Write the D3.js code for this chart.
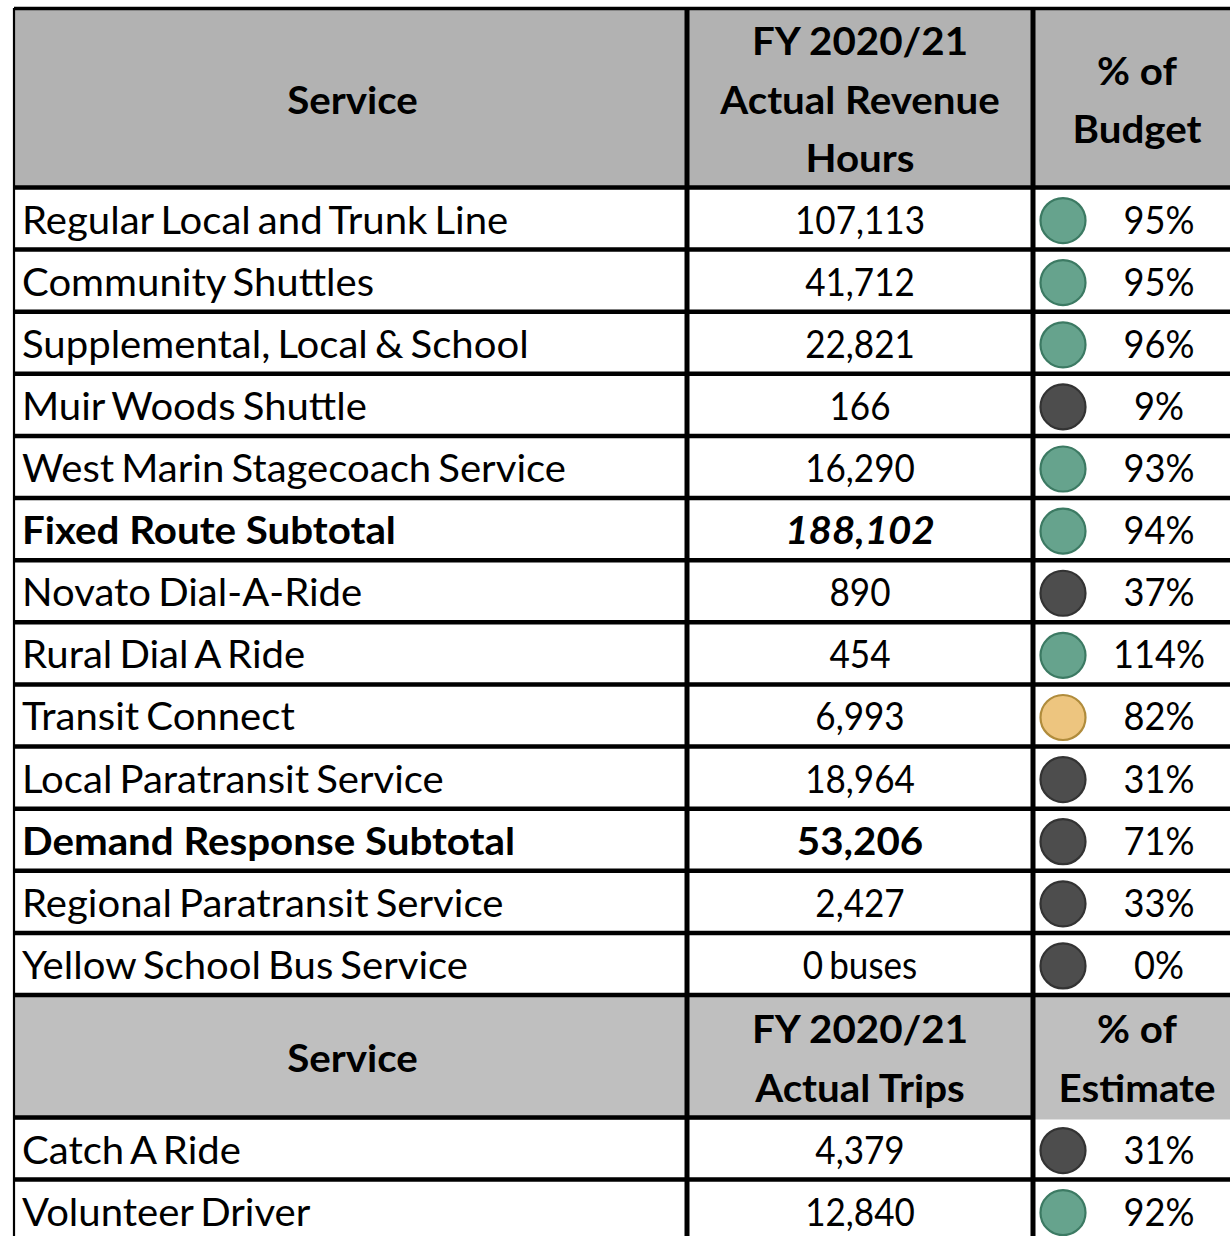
<!DOCTYPE html>
<html>
<head>
<meta charset="utf-8">
<script src="https://cdn.jsdelivr.net/npm/d3@7/dist/d3.min.js"></script>
<style>
  html, body { margin: 0; padding: 0; background: #fff; }
  svg { display: block; }
  text { font-family: Lato, "Noto Sans", sans-serif; fill: #000; }
</style>
</head>
<body>
<svg id="chart" width="1230" height="1236"></svg>
<script>
// ---------- DATA ----------
const header1 = ["Service", "FY 2020/21|Actual Revenue|Hours", "% of|Budget"];
const services = [
  "Regular Local and Trunk Line", "Community Shuttles", "Supplemental, Local & School",
  "Muir Woods Shuttle", "West Marin Stagecoach Service", "Fixed Route Subtotal",
  "Novato Dial-A-Ride", "Rural Dial A Ride", "Transit Connect", "Local Paratransit Service",
  "Demand Response Subtotal", "Regional Paratransit Service", "Yellow School Bus Service"
];
const hours = ["107,113", "41,712", "22,821", "166", "16,290", "188,102", "890", "454",
  "6,993", "18,964", "53,206", "2,427", "0 buses"];
const pctBudget = ["95%", "95%", "96%", "9%", "93%", "94%", "37%", "114%", "82%", "31%", "71%", "33%", "0%"];
const status1 = ["good", "good", "good", "poor", "good", "good", "poor", "good", "warn", "poor", "poor", "poor", "poor"];
const rowStyle1 = ["", "", "", "", "", "subtotal", "", "", "", "", "subtotal2", "", ""];

const header2 = ["Service", "FY 2020/21|Actual Trips", "% of|Estimate"];
const services2 = ["Catch A Ride", "Volunteer Driver"];
const trips = ["4,379", "12,840"];
const pctEstimate = ["31%", "92%"];
const status2 = ["poor", "good"];

// ---------- STYLE ----------
const statusFill = { good: "#66a38d", poor: "#4d4d4d", warn: "#edc57f" };
const statusStroke = { good: "#3c7a63", poor: "#333333", warn: "#b08c3c" };

const svg = d3.select("#chart");
const W = 1230;
const xLeft = 14, xC1 = 687, xC2 = 1033, xRight = 1240;
const colCenter = [(xLeft + xC1) / 2 + 2, (xC1 + xC2) / 2, 1159];
const top1 = 8, head1Bottom = 187.5, body1Bottom = 995, head2Bottom = 1117.5;

const y1 = d3.scaleLinear().domain([0, services.length]).range([head1Bottom, body1Bottom]);
const y2 = d3.scaleLinear().domain([0, services2.length]).range([head2Bottom, head2Bottom + 2 * 62.1]);

const FS = 38;

// measure to compress horizontally like the condensed original font
function measure(str, weight, style) {
  const t = svg.append("text").attr("font-size", FS).attr("font-weight", weight)
    .attr("font-style", style || "normal").attr("word-spacing", weight === 400 ? -3 : 0).text(str);
  const w = t.node().getComputedTextLength();
  t.remove();
  return w;
}
const sxName = (505 + 536 + 434 + 509) /
  (measure("Regular Local and Trunk Line", 400) + measure("West Marin Stagecoach Service", 400) +
   measure("Yellow School Bus Service", 400) + measure("Supplemental, Local & School", 400));
const sxNum = 130 / measure("107,113", 400);
const sxPct = 92 / measure("114%", 400);
const sxBold = 374 / measure("Fixed Route Subtotal", 700);

function addText(g, str, x, y, anchor, weight, sx, style) {
  g.append("text")
    .attr("transform", `translate(${x},${y}) scale(${sx},1)`)
    .attr("text-anchor", anchor)
    .attr("font-size", FS)
    .attr("font-weight", weight)
    .attr("font-style", style || "normal")
    .attr("word-spacing", weight === 400 ? -3 : 0)
    .text(str);
}

// ---------- HEADER BACKGROUNDS ----------
svg.append("rect").attr("x", xLeft).attr("y", top1).attr("width", W - xLeft).attr("height", head1Bottom - top1)
  .attr("fill", "#b2b2b2");
svg.append("rect").attr("x", xLeft).attr("y", body1Bottom).attr("width", W - xLeft).attr("height", head2Bottom - body1Bottom + 2)
  .attr("fill", "#bfbfbf");

const g = svg.append("g");

function drawHeader(hdr, yTop, yBot, lineGap) {
  const cy = (yTop + yBot) / 2;
  hdr.forEach((h, i) => {
    const lines = h.split("|");
    lines.forEach((ln, j) => {
      const yy = cy + (j - (lines.length - 1) / 2) * lineGap + 16;
      addText(g, ln, colCenter[i] + (i === 2 ? -22 : 0), yy, "middle", 700, sxBold);
    });
  });
}
drawHeader(header1, top1, head1Bottom, 58.5);
drawHeader(header2, body1Bottom, head2Bottom, 59);

// ---------- BODY ROWS ----------
function drawRows(names, vals, pcts, stats, ys, styles) {
  names.forEach((name, i) => {
    const cy = (ys(i) + ys(i + 1)) / 2;
    const base = cy + 15;
    const st = styles ? styles[i] : "";
    const bold = st === "subtotal" || st === "subtotal2";
    addText(g, name, 22, base, "start", bold ? 700 : 400, bold ? sxBold : sxName);
    addText(g, vals[i], colCenter[1], base, "middle", bold ? 700 : 400, bold ? sxBold : sxNum,
      st === "subtotal" ? "italic" : "normal");
    g.append("circle")
      .attr("cx", 1063).attr("cy", cy + 2).attr("r", 22.5)
      .attr("fill", statusFill[stats[i]])
      .attr("stroke", statusStroke[stats[i]])
      .attr("stroke-width", 2.2);
    addText(g, pcts[i], colCenter[2], base, "middle", 400, sxPct);
  });
}
drawRows(services, hours, pctBudget, status1, y1, rowStyle1);
drawRows(services2, trips, pctEstimate, status2, y2, null);

// ---------- GRID LINES ----------
const lines = svg.append("g").attr("stroke", "#000");
lines.append("line").attr("x1", xLeft).attr("x2", xRight).attr("y1", top1 + 0.5).attr("y2", top1 + 0.5).attr("stroke-width", 3.5);
d3.range(services.length + 1).forEach(k => {
  lines.append("line").attr("x1", xLeft).attr("x2", xRight).attr("y1", y1(k)).attr("y2", y1(k)).attr("stroke-width", 4.5);
});
lines.append("line").attr("x1", xLeft).attr("x2", xC2).attr("y1", y2(0)).attr("y2", y2(0)).attr("stroke-width", 4.5);
d3.range(1, services2.length + 1).forEach(k => {
  lines.append("line").attr("x1", xLeft).attr("x2", xRight).attr("y1", y2(k)).attr("y2", y2(k)).attr("stroke-width", 4.5);
});
lines.append("line").attr("x1", xLeft).attr("x2", xLeft).attr("y1", top1).attr("y2", 1236).attr("stroke-width", 2.2);
[xC1, xC2].forEach(x => {
  lines.append("line").attr("x1", x).attr("x2", x).attr("y1", top1).attr("y2", 1236).attr("stroke-width", 5);
});
</script>
</body>
</html>
